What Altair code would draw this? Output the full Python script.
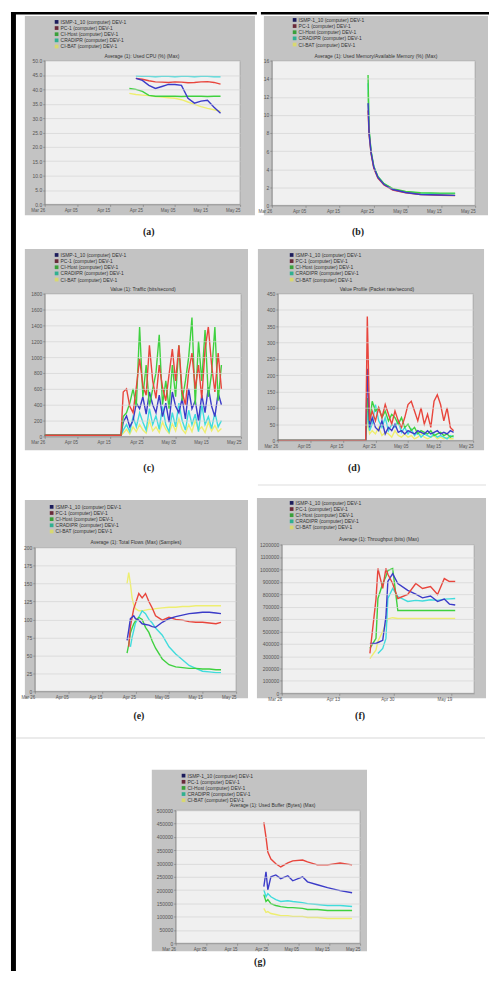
import altair as alt
import pandas as pd

# ---------------- shared labels ----------------
SERIES = ["ISMP-1_10 (computer) DEV-1", "PC-1 (computer) DEV-1", "CI-Host (computer) DEV-1",
          "CRADIPR (computer) DEV-1", "CI-BAT (computer) DEV-1"]
LINE_COLORS = ["#3b3bc8", "#e8453c", "#3fd13f", "#40dcdc", "#eeee70"]
KEY_COLORS = ["#1c1c5c", "#6a2a3a", "#3aa03a", "#30b090", "#d8d870"]
X_TICKS = [0, 10, 20, 30, 40, 50, 60]
X_LABELS = ["Mar 26", "Apr 05", "Apr 15", "Apr 25", "May 05", "May 15", "May 25"]
F_X_TICKS = [0, 18, 35, 53]
F_X_LABELS = ["Mar 26", "Apr 13", "Apr 30", "May 19"]
TITLES = {
    "a": "Average (1): Used CPU (%) (Max)",
    "b": "Average (1): Used Memory/Available Memory (%) (Max)",
    "c": "Value (1): Traffic (bits/second)",
    "d": "Value Profile (Packet rate/second)",
    "e": "Average (1): Total Flows (Max) (Samples)",
    "f": "Average (1): Throughput (bits) (Max)",
    "g": "Average (1): Used Buffer (Bytes) (Max)",
}

# ---------------- panel (a) ----------------
A_X = [26, 28, 30, 32, 34, 36, 38, 40, 42, 44, 46, 48, 50, 52, 54]
A_SMP = [None, 43.8, 43.1, 41.4, 40.3, 41.0, 41.7, 41.7, 41.4, 36.9, 35.2, 35.9, 36.2, 33.8, 31.7]
A_PC = [None, 43.8, 43.5, 43.0, 42.6, 42.5, 42.4, 42.6, 42.5, 42.3, 42.4, 42.6, 42.7, 42.4, 41.8]
A_CIH = [40.3, 40.0, 39.3, 37.9, 37.6, 37.6, 37.6, 37.6, 37.5, 37.6, 37.6, 37.6, 37.5, 37.6, 37.6]
A_CRAD = [None, 44.6, 44.5, 44.5, 44.4, 44.5, 44.5, 44.4, 44.5, 44.5, 44.4, 44.5, 44.5, 44.4, 44.4]
A_CIB = [38.6, 38.2, 38.0, 37.8, 37.5, 37.3, 37.1, 36.9, 36.4, 35.6, 34.8, 34.0, 33.4, 32.9, 32.4]

# ---------------- panel (b) ----------------
B_X = [28.4, 28.7, 29.3, 30.1, 31.3, 33.1, 35.7, 39.5, 43.9, 49.8, 54.1]
B_SMP = [11.3, 8.0, 5.8, 4.2, 3.1, 2.3, 1.75, 1.42, 1.2, 1.15, 1.1]
B_PC = [10.5, 7.8, 5.7, 4.1, 3.0, 2.25, 1.7, 1.4, 1.2, 1.12, 1.08]
B_CIH = [14.4, 8.5, 6.0, 4.3, 3.2, 2.4, 1.85, 1.55, 1.4, 1.35, 1.35]
B_CRAD = [13.5, 8.3, 5.9, 4.3, 3.2, 2.4, 1.8, 1.5, 1.35, 1.3, 1.3]
B_CIB = [12.5, 8.2, 5.9, 4.2, 3.1, 2.35, 1.8, 1.5, 1.3, 1.25, 1.25]

# ---------------- panel (c) ----------------
C_X = [0, 23.3, 24, 25, 26, 27, 28, 29, 30, 31, 32, 33, 34, 35, 36, 37, 38, 39, 40,
       41, 42, 43, 44, 45, 46, 47, 48, 49, 50, 51, 52, 53, 54]
C_PC = [15, 15, 560, 600, 380, 300, 620, 980, 640, 520, 1150, 700, 480, 900, 620, 450, 780,
        1100, 700, 1150, 560, 400, 820, 1050, 600, 900, 480, 1100, 1380, 900, 560, 1050, 600]
C_CIH = [15, 15, 250, 300, 420, 600, 380, 1380, 500, 900, 380, 600, 800, 1280, 400, 700, 350,
         900, 500, 1150, 450, 700, 1000, 1500, 400, 1200, 700, 1340, 500, 800, 1380, 450, 900]
C_SMP = [15, 15, 180, 260, 120, 200, 420, 350, 500, 280, 560, 400, 300, 520, 250, 420, 180,
         560, 380, 300, 480, 220, 600, 350, 450, 200, 520, 300, 620, 380, 250, 550, 400]
C_CRAD = [15, 15, 80, 150, 60, 250, 120, 300, 180, 80, 350, 150, 260, 90, 380, 150, 60,
          300, 120, 420, 200, 80, 330, 150, 280, 60, 400, 150, 250, 100, 300, 120, 200]
C_CIB = [15, 15, 40, 90, 30, 120, 60, 150, 80, 40, 200, 70, 120, 50, 180, 90, 40,
         160, 70, 220, 90, 40, 150, 60, 200, 80, 120, 50, 180, 70, 140, 60, 100]

# ---------------- panel (d) ----------------
D_X = [0, 27.0, 27.5, 28.2, 29, 30, 31, 32, 33, 34, 35, 36, 37, 38, 39, 40, 41, 42,
       43, 44, 45, 46, 47, 48, 49, 50, 51, 52, 53, 54]
D_PC = [0, 0, 380, 60, 90, 60, 100, 70, 110, 80, 50, 90, 60, 40, 70, 110, 120, 90,
        60, 100, 50, 80, 40, 120, 140, 110, 60, 100, 40, 30]
D_SMP = [0, 0, 220, 40, 70, 40, 30, 60, 20, 40, 30, 50, 25, 30, 20, 30, 25, 20,
         30, 25, 20, 30, 20, 25, 30, 20, 25, 20, 30, 25]
D_CIH = [0, 0, 130, 50, 120, 90, 100, 70, 90, 60, 80, 70, 50, 70, 40, 50, 30, 40,
         20, 30, 25, 20, 30, 15, 20, 25, 15, 20, 10, 15]
D_CRAD = [0, 0, 90, 30, 50, 110, 60, 40, 70, 30, 50, 40, 60, 25, 40, 20, 35, 15,
          25, 10, 20, 15, 10, 20, 10, 15, 10, 5, 15, 10]
D_CIB = [0, 0, 60, 20, 30, 20, 40, 15, 25, 20, 10, 30, 15, 10, 20, 10, 15, 5,
         10, 20, 10, 5, 10, 15, 5, 10, 5, 10, 5, 5]

# ---------------- panel (e) ----------------
E_X = [27.5, 28, 28.5, 29, 29.5, 30, 31, 32, 33, 34, 35, 36, 38, 40, 42, 44, 46, 48, 50, 52, 54, 55.5]
E_SMP = [71, 85, 101, 103, 105, 101, 99, 94, 93, 92, 90, 89, 96, 101, 104, 106, 108, 109, 110, 110, 109, 108]
E_PC = [None, 62, 90, 103, 115, 122, 136, 130, 136, 125, 116, 105, 99, 103, 100, 99, 97, 96, 96, 95, 94, 96]
E_CIH = [53, 65, 81, 88, 94, 98, 103, 100, 89, 82, 70, 60, 45, 37, 34, 33, 32, 32, 31, 31, 30, 30]
E_CRAD = [None, None, 62, 75, 85, 95, 103, 112, 108, 100, 95, 88, 78, 62, 52, 44, 36, 32, 28, 27, 26, 26]
E_CIB = [150, 165, 150, 130, 120, 115, 112, 112, 113, 114, 114, 115, 116, 117, 117, 118, 118, 119, 119, 119, 119, 119]

# ---------------- panel (f) ----------------
F_X = [27.5, 29.4, 30.0, 31.5, 32.5, 33.1, 34.6, 36.2, 39.3, 41.8, 43.9, 46.4, 48.6, 50.7, 52.3, 54.1]
F_PC = [322000, 760000, 1007000, 846000, 1007000, 960000, 886000, 765000, 797000, 886000,
        846000, 862000, 797000, 926000, 902000, 902000]
F_SMP = [403000, 403000, 410000, 427000, 620000, 902000, 966000, 886000, 830000, 800000,
         770000, 785000, 740000, 760000, 720000, 712000]
F_CIH = [362000, 443000, 765000, 886000, 942000, 990000, 1007000, 668000, 668000, 668000,
         668000, 668000, 668000, 668000, 668000, 668000]
F_CRAD = [None, None, 322000, 362000, 443000, 765000, 846000, 781000, 741000, 750000,
          745000, 755000, 750000, 760000, 762000, 765000]
F_CIB = [280000, 350000, 420000, 500000, 560000, 600000, 610000, 604000, 604000, 604000,
         604000, 604000, 604000, 604000, 604000, 604000]

# ---------------- panel (g) ----------------
G_X = [28.7, 29.4, 30.0, 31.0, 32.6, 34.2, 36.5, 38.1, 41.3, 42.9, 46.1, 49.4, 53.5, 57.4]
G_PC = [455000, 399000, 343000, 317000, 299000, 287000, 302000, 310000, 313000, 306000,
        295000, 295000, 302000, 295000]
G_SMP = [213000, 269000, 201000, 250000, 257000, 243000, 254000, 235000, 250000, 231000,
         220000, 209000, 198000, 190000]
G_CRAD = [201000, 175000, 187000, 175000, 164000, 157000, 160000, 157000, 153000, 149000,
          146000, 142000, 142000, 138000]
G_CIH = [183000, 157000, 164000, 149000, 142000, 138000, 134000, 134000, 131000, 127000,
         127000, 123000, 123000, 123000]
G_CIB = [131000, 116000, 119000, 112000, 108000, 104000, 104000, 101000, 101000, 97000,
         97000, 93000, 93000, 93000]

# ---------------- styling ----------------
BOX_GRAY = "#c3c3c3"
PLOT_BG = "#f0f0f0"
GRID = "#d4d4d4"
SANS = "Liberation Sans"
SERIF = "Liberation Serif"
ONE = pd.DataFrame({"k": [0]})


def long_df(x, cols):
    rows = []
    for name, vals in cols:
        for d, v in zip(x, vals):
            if v is not None:
                rows.append({"day": d, "value": v, "series": name})
    return pd.DataFrame(rows)


def rect(x1, x2, y1, y2, color, **kw):
    return alt.Chart(ONE).mark_rect(color=color, **kw).encode(
        x=alt.value(x1), x2=alt.value(x2), y=alt.value(y1), y2=alt.value(y2))


def text(s, x, y, size, font, color="#333", align="center", baseline="middle", weight="normal"):
    return alt.Chart(ONE).mark_text(text=s, font=font, fontSize=size, color=color,
                                    align=align, baseline=baseline, fontWeight=weight).encode(
        x=alt.value(x), y=alt.value(y))


def panel(df, cell, plot, box, ydom, ystep, yfmt, xticks, xlabels, title, title_xy,
          leg, lab, lab_xy, extras=()):
    """All positions given in page pixels; converted to this cell's coordinates."""
    cx, cy, cw, ch = cell
    px, py, pw, ph = plot
    ox, oy = px - cx, py - cy
    n = int(round((ydom[1] - ydom[0]) / ystep))
    yvals = [ydom[0] + i * ystep for i in range(n + 1)]
    arr = "[" + ",".join("'%s'" % s for s in xlabels) + "]"
    tks = "[" + ",".join(str(t) for t in xticks) + "]"
    label_expr = arr + "[indexof(" + tks + ", datum.value)]"

    layers = [rect(x1 - cx, x2 - cx, y1 - cy, y2 - cy, c) for (x1, x2, y1, y2, c) in extras]
    bx1, by1, bx2, by2 = box
    layers.append(rect(bx1 - cx, bx2 - cx, by1 - cy, by2 - cy, BOX_GRAY))
    layers.append(rect(ox, ox + pw, oy, oy + ph, PLOT_BG, stroke="#8c8c8c", strokeWidth=0.6))

    axis_common = dict(title=None, tickSize=2, labelFont=SANS, labelColor="#555",
                       domainColor="#777", tickColor="#777", domainWidth=0.6,
                       tickWidth=0.6, zindex=1, labelPadding=1)
    lines = alt.Chart(df).mark_line(strokeWidth=1.4).encode(
        x=alt.X("day:Q", scale=alt.Scale(domain=[0, 60], nice=False, zero=False,
                                         range=[ox, ox + pw]),
                axis=alt.Axis(values=xticks, labelExpr=label_expr, grid=False,
                              labelFontSize=4.5, labelAlign="right",
                              offset=-(ch - (oy + ph)), **axis_common)),
        y=alt.Y("value:Q", scale=alt.Scale(domain=ydom, nice=False, zero=False,
                                           range=[oy + ph, oy]),
                axis=alt.Axis(values=yvals, format=yfmt, grid=True, gridColor=GRID,
                              gridWidth=0.7, labelFontSize=5, offset=-ox, **axis_common)),
        color=alt.Color("series:N", scale=alt.Scale(domain=SERIES, range=LINE_COLORS), legend=None),
    )
    layers.append(lines)

    lx, ly0 = leg[0] - cx, leg[1] - cy
    leg_df = pd.DataFrame({"series": SERIES, "idx": list(range(len(SERIES)))})
    keys = alt.Chart(leg_df).mark_square(size=14, opacity=1).transform_calculate(
        ly="%f + datum.idx * 6.2" % ly0).encode(
        x=alt.value(lx), y=alt.Y("ly:Q", scale=None, axis=None),
        fill=alt.Fill("series:N", scale=alt.Scale(domain=SERIES, range=KEY_COLORS), legend=None))
    texts = alt.Chart(leg_df).mark_text(align="left", baseline="middle", fontSize=5, font=SANS,
                                        color="#333").transform_calculate(
        ly="%f + datum.idx * 6.2" % ly0).encode(
        x=alt.value(lx + 4), y=alt.Y("ly:Q", scale=None, axis=None), text="series:N")
    layers += [keys, texts]

    layers.append(text(title, title_xy[0] - cx, title_xy[1] - cy, 5, SANS, "#333",
                       baseline="bottom"))
    layers.append(text(lab, lab_xy[0] - cx, lab_xy[1] - cy, 10, SERIF, "#222", weight="bold"))

    return alt.layer(*layers).resolve_scale(y="independent").properties(width=cw, height=ch)


df_a = long_df(A_X, [(SERIES[4], A_CIB), (SERIES[3], A_CRAD), (SERIES[2], A_CIH), (SERIES[1], A_PC), (SERIES[0], A_SMP)])
df_b = long_df(B_X, [(SERIES[4], B_CIB), (SERIES[3], B_CRAD), (SERIES[2], B_CIH), (SERIES[1], B_PC), (SERIES[0], B_SMP)])
df_c = long_df(C_X, [(SERIES[4], C_CIB), (SERIES[3], C_CRAD), (SERIES[0], C_SMP), (SERIES[2], C_CIH), (SERIES[1], C_PC)])
df_d = long_df(D_X, [(SERIES[4], D_CIB), (SERIES[3], D_CRAD), (SERIES[2], D_CIH), (SERIES[0], D_SMP), (SERIES[1], D_PC)])
df_e = long_df(E_X, [(SERIES[4], E_CIB), (SERIES[3], E_CRAD), (SERIES[2], E_CIH), (SERIES[1], E_PC), (SERIES[0], E_SMP)])
df_f = long_df(F_X, [(SERIES[4], F_CIB), (SERIES[3], F_CRAD), (SERIES[2], F_CIH), (SERIES[0], F_SMP), (SERIES[1], F_PC)])
df_g = long_df(G_X, [(SERIES[4], G_CIB), (SERIES[2], G_CIH), (SERIES[3], G_CRAD), (SERIES[0], G_SMP), (SERIES[1], G_PC)])

# page-pixel layout: cells tile the page from (8, 8) to (489, 975)
CELL_A = (8, 8, 251, 232)
CELL_B = (259, 8, 230, 232)
CELL_C = (8, 240, 251, 240)
CELL_D = (259, 240, 230, 240)
CELL_E = (8, 480, 251, 255)
CELL_F = (259, 480, 230, 255)
CELL_G = (8, 735, 481, 240)

BLACK = "#000000"
LEFT_LINE = lambda c: (11, 16, c[1], c[1] + c[3], BLACK)
TOP_LINE = lambda c: (max(11, c[0]), c[0] + c[2], 8, 10.5, BLACK)

pa = panel(df_a, CELL_A, (45, 57, 197, 145), (25, 12, 257, 213), [0, 50], 5, ".1f",
           X_TICKS, X_LABELS, TITLES["a"], (143, 55), (57, 18), "(a)", (150, 230),
           extras=[LEFT_LINE(CELL_A), TOP_LINE(CELL_A)])
pb = panel(df_b, CELL_B, (270, 57, 205, 146), (262, 12, 488, 213), [0, 16], 2, "d",
           X_TICKS, X_LABELS, TITLES["b"], (375, 55), (293, 16), "(b)", (357, 230),
           extras=[TOP_LINE(CELL_B)])
pc = panel(df_c, CELL_C, (45, 292, 198, 144), (25, 247, 250, 450), [0, 1800], 200, "d",
           X_TICKS, X_LABELS, TITLES["c"], (144, 290), (57, 253), "(c)", (150, 468),
           extras=[LEFT_LINE(CELL_C)])
pd_ = panel(df_d, CELL_D, (280, 292, 197, 148), (260, 247, 488, 450), [0, 450], 50, "d",
            X_TICKS, X_LABELS, TITLES["d"], (380, 290), (294, 253), "(d)", (357, 468))
pe = panel(df_e, CELL_E, (35, 548, 203, 145), (25, 500, 250, 700), [0, 200], 25, "d",
           X_TICKS, X_LABELS, TITLES["e"], (137, 545), (52, 507), "(e)", (140, 718),
           extras=[LEFT_LINE(CELL_E)])
pf = panel(df_f, CELL_F, (283, 545, 194, 150), (258, 498, 489, 700), [0, 1200000], 100000, "d",
           F_X_TICKS, F_X_LABELS, TITLES["f"], (381, 542), (293, 503), "(f)", (362, 718),
           extras=[(259, 489, 484.5, 485.5, "#dedede")])
pg = panel(df_g, CELL_G, (177, 813, 186, 134), (153, 772, 370, 955), [0, 500000], 50000, "d",
           X_TICKS, X_LABELS, TITLES["g"], (275, 811), (185, 778), "(g)", (262, 966),
           extras=[LEFT_LINE(CELL_G), (16, 489, 739.5, 740.5, "#d8d8d8")])

chart = alt.vconcat(
    alt.hconcat(pa, pb, spacing=0),
    alt.hconcat(pc, pd_, spacing=0),
    alt.hconcat(pe, pf, spacing=0),
    pg,
    spacing=0,
).properties(
    padding={"left": 0, "top": 0, "right": 0, "bottom": 0},
    background="#ffffff",
).configure_view(stroke=None, fill="#ffffff")

chart.save("out.html", embed_options={"renderer": "svg", "actions": False})
